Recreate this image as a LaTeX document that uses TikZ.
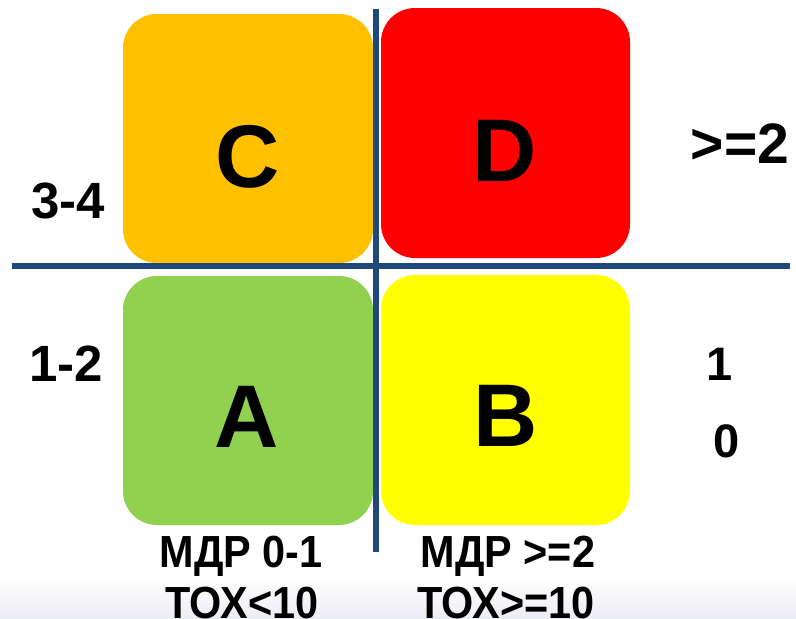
\documentclass[tikz,border=0pt]{standalone}
\usepackage{fontspec}
\setmainfont{Liberation Sans}
\definecolor{cOrange}{HTML}{FFC000}
\definecolor{cRed}{HTML}{FF0000}
\definecolor{cGreen}{HTML}{92D050}
\definecolor{cYellow}{HTML}{FFFF00}
\definecolor{axisBlue}{HTML}{1F497D}
\definecolor{fadeBg}{HTML}{ECECF4}
\begin{document}
\begin{tikzpicture}[x=1pt,y=-1pt,
  quad/.style={rectangle, rounded corners=34pt, inner sep=0pt, draw=none},
  bigletter/.style={anchor=base, inner sep=0pt, font=\fontsize{89}{89}\selectfont\bfseries},
  sidelabel/.style={anchor=base, inner sep=0pt, font=\fontsize{51}{51}\selectfont\bfseries},
  bottomlabel/.style={anchor=base, inner sep=0pt, xscale=0.92, font=\fontsize{45}{45}\selectfont\bfseries},
  axisline/.style={draw=axisBlue, line width=6.5pt}]
\useasboundingbox (0,0) rectangle (796,619);
\fill[white] (0,0) rectangle (796,619);
\shade[top color=white, bottom color=fadeBg] (0,578) rectangle (796,619);
% quadrant boxes
\node[quad, fill=cOrange, minimum width=250pt, minimum height=249pt] (boxC) at (248,138.5) {};
\node[quad, fill=cRed, minimum width=249pt, minimum height=250pt] (boxD) at (505.5,133) {};
\node[quad, fill=cGreen, minimum width=250pt, minimum height=249pt] (boxA) at (248,400.5) {};
\node[quad, fill=cYellow, minimum width=249pt, minimum height=250pt] (boxB) at (505.5,400) {};
% axes
\coordinate (vTop) at (376,9);
\coordinate (vBot) at (376,552);
\coordinate (hLeft) at (12,266);
\coordinate (hRight) at (790,266);
\draw[axisline] (vTop) -- (vBot);
\draw[axisline] (hLeft) -- (hRight);
% letters
\node[bigletter] (lC) at (248,187) {C};
\node[bigletter] (lD) at (505,181) {D};
\node[bigletter] (lA) at (247,447) {A};
\node[bigletter] (lB) at (506,446) {B};
% side labels
\node[sidelabel] (l34) at (68,218) {3-4};
\node[sidelabel] (l12) at (66,381) {1-2};
\node[sidelabel, font=\fontsize{57}{57}\selectfont\bfseries] (lge2) at (740,163) {>=2};
\node[sidelabel, font=\fontsize{47}{47}\selectfont\bfseries] (l1) at (720,380) {1};
\node[sidelabel, font=\fontsize{47}{47}\selectfont\bfseries] (l0) at (727,457) {0};
% bottom labels
\node[bottomlabel] (mdr1) at (241,567) {МДР 0-1};
\node[bottomlabel] (tox1) at (242,618) {ТОХ<10};
\node[bottomlabel] (mdr2) at (508,567) {МДР >=2};
\node[bottomlabel] (tox2) at (506,618) {ТОХ>=10};
\end{tikzpicture}
\end{document}
